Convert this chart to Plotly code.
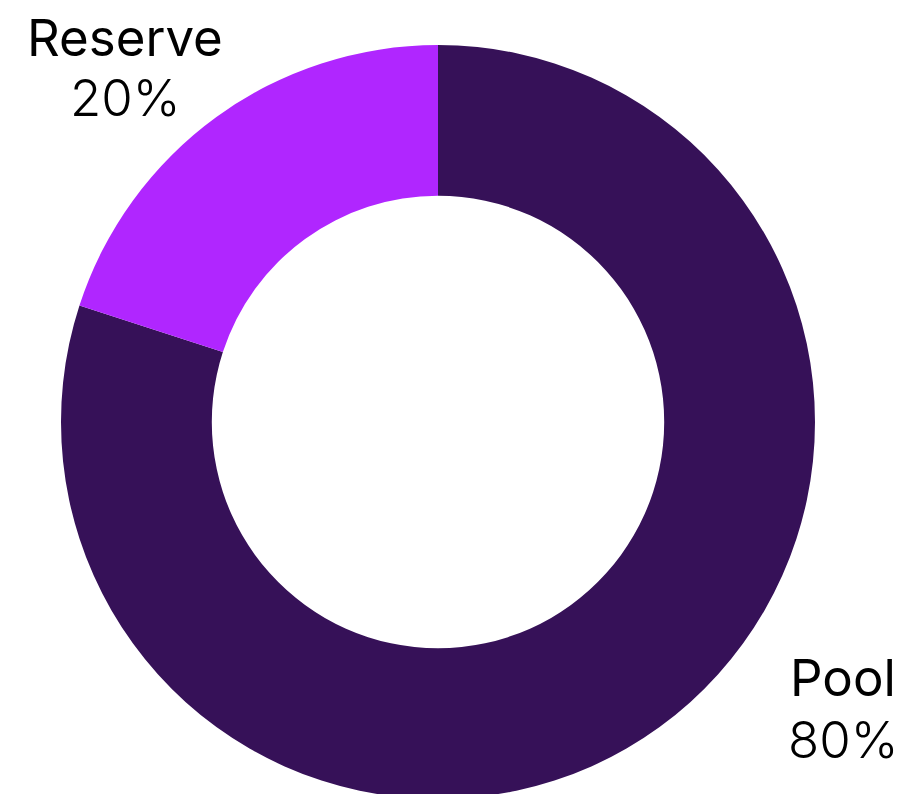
import plotly.graph_objects as go

labels = ["Pool", "Reserve"]
values = [80, 20]
colors = ["#361158", "#B026FF"]

W, H = 907, 794
OFF = 8  # page body margin
cx0, r = 438 - OFF, 377
top = 45 - OFF
fig = go.Figure(go.Pie(
    labels=labels, values=values, sort=False, direction="clockwise",
    hole=0.6, marker=dict(colors=colors, line=dict(width=0)),
    textinfo="none", hoverinfo="label+percent", showlegend=False,
    domain=dict(x=[(cx0 - r) / W, (cx0 + r) / W], y=[1 - (top + 2 * r) / H, 1 - top / H]),
))

# label positions (pixels from top-left)
pos = {"Reserve": (117, 29, 89.5), "Pool": (835, 669, 731.5)}
for lab, val in zip(labels, values):
    cx, y1, y2 = pos[lab]
    fig.add_annotation(x=cx / W, y=1 - y1 / H, xref="paper", yref="paper",
                       text=lab, showarrow=False, xanchor="center", yanchor="middle",
                       font=dict(family="Inter", size=51, color="#000000", weight=400))
    fig.add_annotation(x=cx / W, y=1 - y2 / H, xref="paper", yref="paper",
                       text=f"{val}%", showarrow=False, xanchor="center", yanchor="middle",
                       font=dict(family="Inter", size=51, color="#000000", weight=300))

fig.update_layout(width=W, height=H, margin=dict(l=0, r=0, t=0, b=0),
                  paper_bgcolor="white", plot_bgcolor="white")
fig.write_html("out.html")
